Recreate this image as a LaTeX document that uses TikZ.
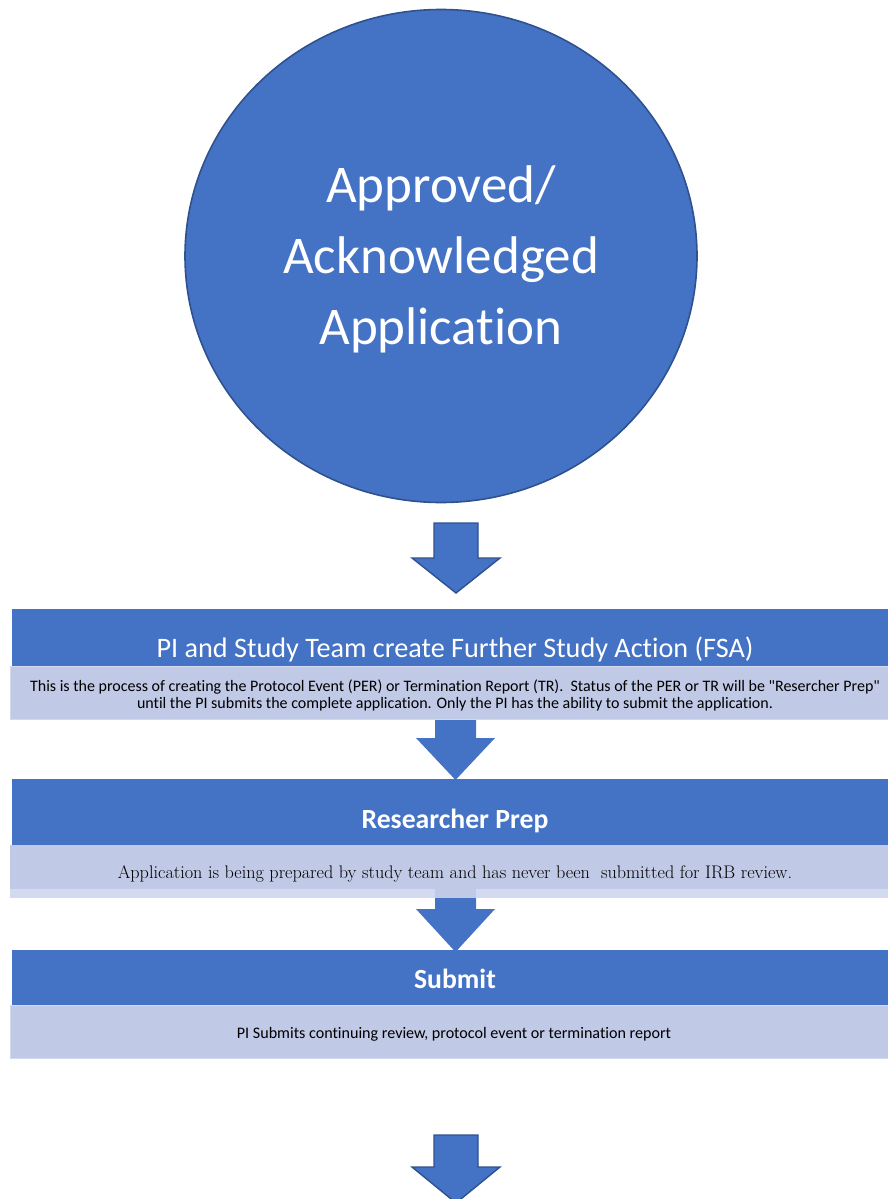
\documentclass[tikz,border=0pt]{standalone}
\usepackage{fontspec}
\usetikzlibrary{shapes.geometric}
\newfontfamily\calfont[Ligatures=NoCommon]{Carlito}
\definecolor{hblue}{HTML}{4472C4}
\definecolor{hdark}{HTML}{2F528F}
\definecolor{lblue}{HTML}{C0C9E5}
\definecolor{lstrip}{HTML}{D3D9EE}
\tikzset{
  hdrbox/.style={fill=hblue, draw=none},
  bodybox/.style={fill=lblue, draw=lstrip, line width=0.6pt},
  hdrtext/.style={text=white, anchor=base, inner sep=0pt},
  bodytext/.style={text=black, anchor=base, inner sep=0pt},
  outlinedarrow/.style={fill=hblue, draw=hdark, line width=1.4pt, line join=miter},
}
\begin{document}
\begin{tikzpicture}[x=1pt,y=-1pt]
\useasboundingbox (0,0) rectangle (888,1199);
\clip (0,0) rectangle (888,1199);

% circle
\node[ellipse, fill=hblue, draw=hdark, line width=1.6pt, minimum width=512pt, minimum height=493pt, inner sep=0pt] (circ) at (441,256) {};
\node[text=white, align=center, inner sep=0pt, anchor=base, font=\calfont\fontsize{53}{71}\selectfont] (circtext) at (441,344) {Approved/\\Acknowledged\\Application};

% arrow 1
\draw[outlinedarrow] (434,523) coordinate (a1top) -- (478,523) -- (478,558) -- (500,558) -- (456,593) coordinate (a1tip) -- (412,558) -- (434,558) -- cycle;

% arrow 2 (behind boxes)
\fill[hblue] (435,715) -- (476,715) -- (476,738) -- (495,738) -- (455.5,780) coordinate (a2tip) -- (416,738) -- (435,738) -- cycle;
% arrow 3 (behind boxes)
\fill[hblue] (435,885) -- (476,885) -- (476,909) -- (495,909) -- (455.5,952) coordinate (a3tip) -- (416,909) -- (435,909) -- cycle;

% box 1
\path[hdrbox] (12,609) rectangle (898,666);
\path[bodybox] (10,666) rectangle (898,719);
\node[hdrtext, font=\calfont\fontsize{28.2}{32}\selectfont] (h1) at (455,657) {PI and Study Team create Further Study Action (FSA)};
\node[bodytext, font=\calfont\fontsize{16}{17}\selectfont] (b1a) at (455,691) {This is the process of creating the Protocol Event (PER) or Termination Report (TR).\ \ Status of the PER or TR will be "Resercher Prep"};
\node[bodytext, font=\calfont\fontsize{16}{17}\selectfont] (b1b) at (455,708) {until the PI submits the complete application. Only the PI has the ability to submit the application.};

% box 2
\path[hdrbox] (12,779) rectangle (898,845);
\path[fill=lblue] (10,845) rectangle (898,889);
\path[fill=lstrip] (10,889) rectangle (898,898);
\path[fill=lblue] (435,889) rectangle (476,898);
\node[hdrtext, font=\calfont\bfseries\fontsize{27.7}{32}\selectfont] (h2) at (455,828) {Researcher Prep};
\node[bodytext, font=\rmfamily\fontsize{18.2}{20}\selectfont] (b2) at (455,878) {Application is being prepared by study team and has never been\ \ submitted for IRB review.};

% box 3
\path[hdrbox] (12,950) rectangle (898,1005);
\path[bodybox] (10,1005) rectangle (898,1058);
\node[hdrtext, font=\calfont\bfseries\fontsize{27.7}{32}\selectfont] (h3) at (455,988) {Submit};
\node[bodytext, font=\calfont\fontsize{16.1}{17}\selectfont] (b3) at (454,1038) {PI Submits continuing review, protocol event or termination report};

% arrow 4
\draw[outlinedarrow] (434,1135) coordinate (a4top) -- (478,1135) -- (478,1167) -- (500,1167) -- (456,1203) coordinate (a4tip) -- (412,1167) -- (434,1167) -- cycle;
\end{tikzpicture}
\end{document}
